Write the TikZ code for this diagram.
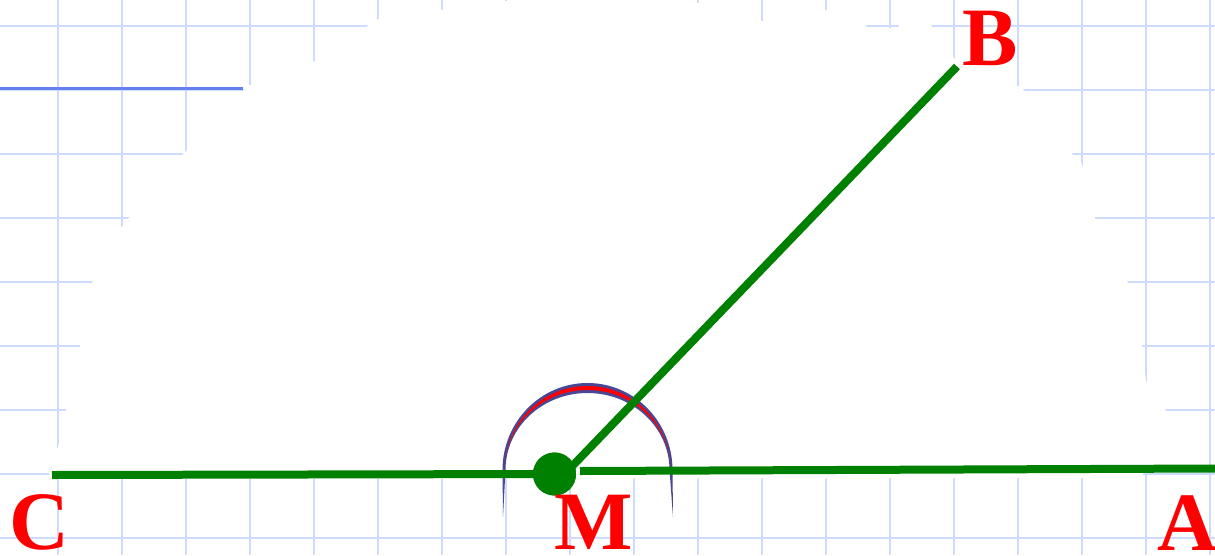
\documentclass[tikz,border=0pt]{standalone}
\usepackage{fontspec}
\setmainfont{Liberation Serif}
\definecolor{gridc}{RGB}{206,219,250}
\definecolor{darkgrid}{RGB}{100,128,238}
\definecolor{lgreen}{RGB}{0,128,0}
\definecolor{arcblue}{RGB}{72,72,150}
\definecolor{lred}{RGB}{255,0,0}
\tikzset{
  gridline/.style={draw=gridc, line width=2.4pt},
  seg/.style={draw=lgreen, line width=8pt},
  dot/.style={circle, fill=lgreen, minimum size=43pt, inner sep=0pt},
  lab/.style={text=lred, font=\bfseries\fontsize{83}{83}\selectfont, inner sep=0pt, anchor=base}
}
\begin{document}
\begin{tikzpicture}[x=1pt,y=-1pt]
\useasboundingbox (0,0) rectangle (1215,555);
% grid
\begin{scope}
\clip (0,0) rectangle (1215,555);
\foreach \gx in {58,122,...,1210} \draw[gridline] (\gx,0) -- (\gx,555);
\foreach \gy in {26,90,...,538} \draw[gridline] (0,\gy) -- (1215,\gy);
\end{scope}
% white blob
\fill[white] (49,479) -- (50,468) -- (58,447) -- (66,411) -- (80,347) -- (92,283)
  -- (121,228) -- (128,219) -- (182,155) -- (186,151) -- (243,91) -- (250,85)
  -- (313,62) -- (366,27) -- (378,19) -- (442,10) -- (506,1) -- (600,-3)
  -- (698,3) -- (762,21) -- (790,22) -- (826,10) -- (845,12) -- (869,28)
  -- (898,28) -- (901,20) -- (930,20) -- (932,28) -- (945,30) -- (954,59)
  -- (1018,86) -- (1025,91) -- (1073,155) -- (1082,164) -- (1095,219)
  -- (1128,283) -- (1142,347) -- (1146,381) -- (1166,411) -- (1160,450)
  -- (1140,478) -- cycle;
\draw[darkgrid, line width=3pt] (0,88.5) -- (243,88.5);
% angle arc
\fill[arcblue] (503,517) -- (502.5,470)
  arc[start angle=180, end angle=360, x radius=85, y radius=87]
  -- (673,517) -- (669.5,470)
  arc[start angle=360, end angle=180, x radius=82, y radius=77] -- cycle;
\fill[lred] (504.5,470)
  arc[start angle=180, end angle=360, x radius=83, y radius=84]
  -- (670.5,470)
  arc[start angle=360, end angle=180, x radius=83, y radius=80] -- cycle;
% points
\coordinate (cL) at (52,475);
\coordinate (mA) at (580,471);
\coordinate (aR) at (1215,468.5);
\coordinate (mB) at (556,483);
\coordinate (bE) at (957,66.5);
\node[dot] (m) at (554.5,474) {};
\draw[seg] (cL) -- (m.center);
\draw[seg] (mA) -- (aR);
\draw[seg] (mB) -- (bE);
\node[dot] (m2) at (m.center) {};
% labels
\node[lab] (lB) at (990,65) {B};
\node[lab] (lC) at (39,549) {C};
\node[lab] (lM) at (594,549) {M};
\node[lab] (lA) at (1187,550) {A};
\end{tikzpicture}
\end{document}
